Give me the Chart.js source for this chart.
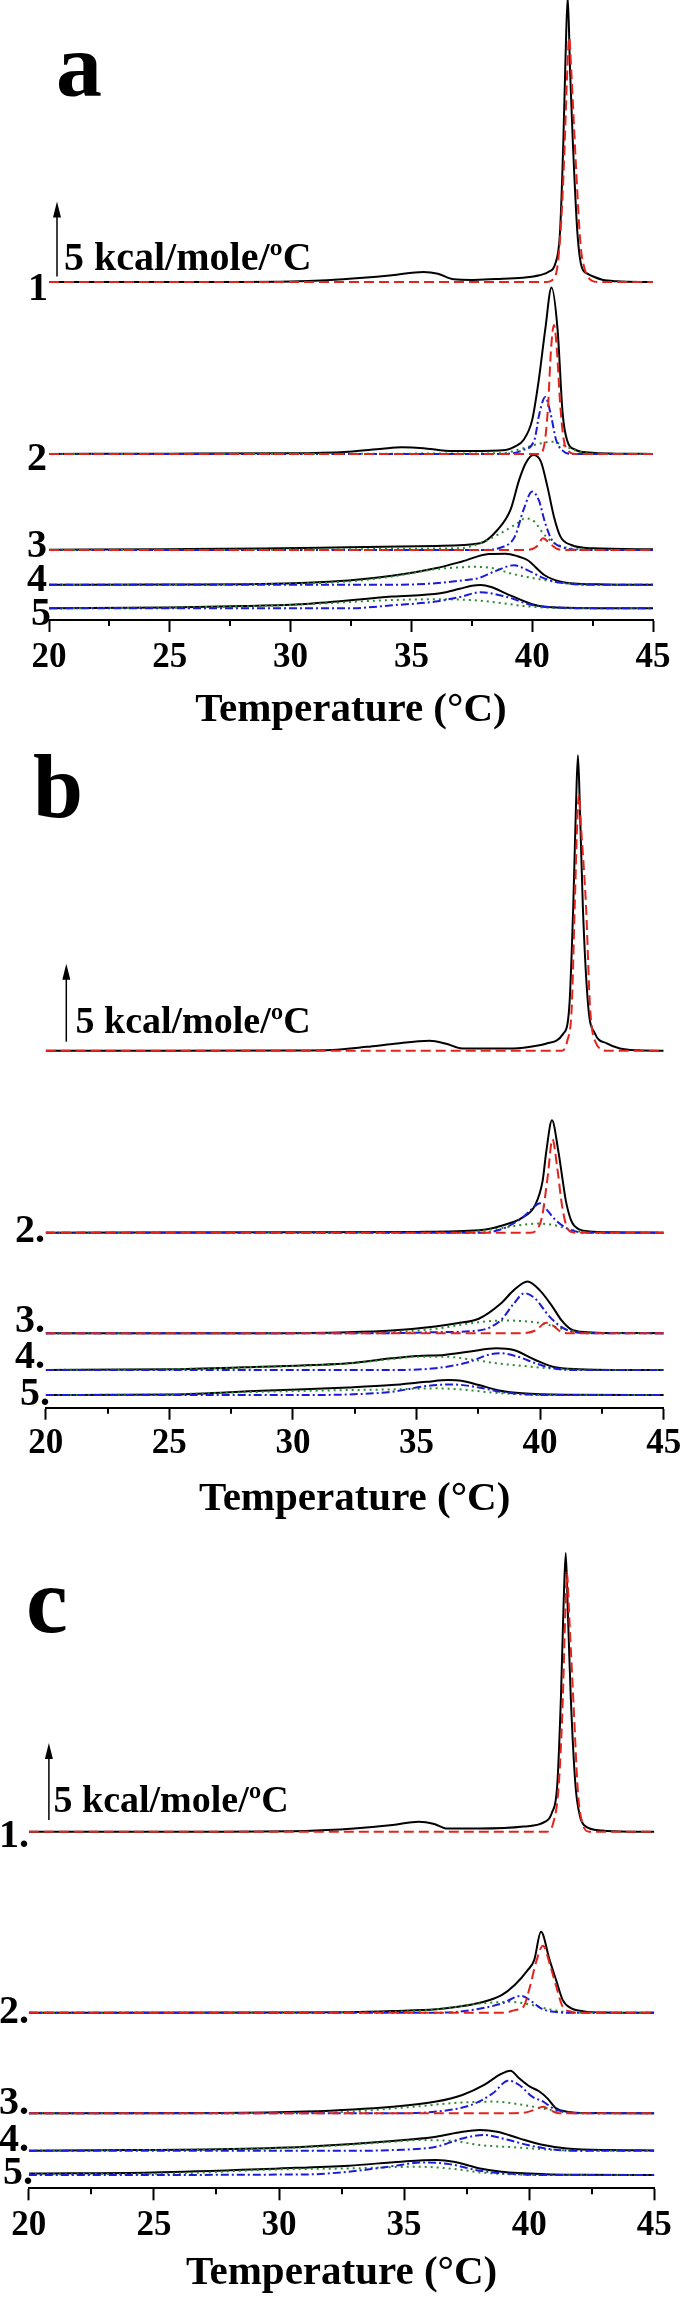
<!DOCTYPE html>
<html><head><meta charset="utf-8">
<script src="https://cdn.jsdelivr.net/npm/chart.js@4.4.1/dist/chart.umd.min.js"></script>
<style>
html,body{margin:0;padding:0;background:#fff;width:684px;height:2300px;overflow:hidden}
.panel{position:absolute;left:0;width:684px}
canvas{display:block}
</style></head><body>
<div class="panel" style="top:0;height:740px"><canvas id="ca" width="684" height="740"></canvas></div>
<div class="panel" style="top:740px;height:790px"><canvas id="cb" width="684" height="790"></canvas></div>
<div class="panel" style="top:1530px;height:770px"><canvas id="cc" width="684" height="770"></canvas></div>
<script>
// ---------- axis / text ----------
const xTicks = [20, 25, 30, 35, 40, 45];
const minorTicks = [22.5, 27.5, 32.5, 37.5, 42.5];
const xTitle = 'Temperature (°C)';
const scaleBarValue = 5;
const scaleBarText = '5 kcal/mole/ºC';

// ---------- panel a : [temperature, excess Cp (kcal/mole/ºC)] ----------
const aT1Total = [[20,0],[25,0],[30,0.04],[31.5,0.12],[33,0.28],[34.2,0.45],[35.5,0.67],[36.1,0.55],[36.75,0.18],[37.5,0.14],[38.5,0.2],[39.6,0.29],[40.3,0.45],[40.7,0.7],[40.95,1.2],[41.15,3.3],[41.29,9.4],[41.38,15],[41.47,19],[41.57,14],[41.68,9.4],[41.87,3.3],[42.05,1.0],[42.3,0.55],[42.55,0.35],[42.9,0.15],[43.5,0.05],[45,0]];
const aT1Red = [[20,0],[40.6,0],[40.8,0.1],[41.04,1.0],[41.2,4],[41.32,8.1],[41.45,14],[41.53,16.3],[41.62,14],[41.8,8.1],[42.0,2.5],[42.15,1.0],[42.46,0.1],[42.8,0],[45,0]];

const aT2Total = [[20,0],[25,0.02],[30,0.04],[32.4,0.15],[33.8,0.35],[34.6,0.44],[35.5,0.38],[36.4,0.22],[37.5,0.2],[38.9,0.27],[39.28,0.49],[39.64,0.93],[40.0,2.27],[40.27,4.9],[40.54,8.3],[40.8,11.1],[41.05,8.3],[41.26,2.7],[41.44,0.93],[41.8,0.27],[42.34,0.09],[43.5,0.02],[45,0]];
const aT2Red = [[20,0],[40.3,0],[40.5,0.6],[40.65,3.0],[40.78,7.0],[40.9,8.6],[41.02,7.0],[41.15,3.5],[41.3,1.0],[41.5,0.2],[41.8,0],[45,0]];
const aT2Blue = [[20,0],[38.7,0],[39.64,0.27],[40.09,0.93],[40.3,2.7],[40.54,3.8],[40.76,2.7],[40.99,0.93],[41.26,0.22],[41.6,0],[45,0]];
const aT2Green = [[20,0],[38.7,0.04],[39.64,0.38],[40.36,0.71],[40.81,0.82],[41.26,0.6],[41.8,0.22],[42.34,0.04],[43,0],[45,0]];

const aT3Total = [[20,0.02],[25,0.05],[28.83,0.09],[32.43,0.18],[36.04,0.27],[37.84,0.44],[38.56,1.33],[39.1,2.67],[39.46,4.67],[39.73,5.78],[40.04,6.33],[40.36,5.89],[40.63,4.22],[40.9,2.22],[41.17,0.89],[41.62,0.33],[42.52,0.11],[45,0.04]];
const aT3Red = [[20,0],[39.64,0],[40.18,0.22],[40.45,0.78],[40.72,0.44],[40.99,0.11],[41.3,0],[45,0]];
const aT3Blue = [[20,0],[37.84,0],[38.74,0.18],[39.28,0.89],[39.64,2.67],[40.0,3.89],[40.27,3.33],[40.54,1.78],[40.81,0.67],[41.26,0.18],[41.98,0],[45,0]];
const aT3Green = [[20,0],[36.94,0.11],[37.84,0.44],[38.56,1.0],[39.28,1.67],[39.73,2.11],[40.09,1.89],[40.45,1.11],[40.81,0.56],[41.26,0.22],[41.98,0.04],[43,0],[45,0]];

const aT4Total = [[20,0],[25,0.02],[28.8,0.05],[32.4,0.29],[34.2,0.6],[36.0,1.1],[37.1,1.55],[38.2,2.05],[38.9,2.07],[39.4,1.9],[39.8,1.65],[40.5,0.65],[41.18,0.2],[41.87,0.07],[43,0.02],[45,0]];
const aT4Blue = [[20,0],[34.2,0],[36.0,0.1],[37.1,0.29],[37.73,0.42],[38.42,0.87],[39.25,1.3],[39.8,0.98],[40.35,0.53],[40.9,0.22],[41.5,0.07],[42.5,0],[45,0]];
const aT4Green = [[20,0],[28.8,0.05],[32.4,0.22],[34.2,0.55],[36.0,1.04],[37.04,1.16],[37.5,1.2],[38.42,1.09],[39.1,0.76],[40.5,0.31],[41.5,0.08],[42.5,0],[45,0]];

const aT5Total = [[20,0],[25,0.05],[28.1,0.15],[30.6,0.29],[34.2,0.78],[36.2,1.0],[37.0,1.3],[37.5,1.5],[37.87,1.55],[38.3,1.42],[38.9,1.0],[40.0,0.27],[40.5,0.1],[41.4,0.04],[45,0]];
const aT5Blue = [[20,0],[32.4,0],[34.2,0.2],[36.0,0.45],[37.0,0.75],[37.87,1.07],[38.9,0.78],[40.0,0.22],[41.1,0.05],[42,0],[45,0]];
const aT5Green = [[20,0],[25,0.05],[28.1,0.13],[30.6,0.27],[34.2,0.55],[36.0,0.6],[37.5,0.55],[38.6,0.38],[39.6,0.16],[40.7,0.04],[42,0],[45,0]];

// ---------- panel b ----------
const bT1Total = [[20,0],[25,0],[30,0.02],[31.56,0.05],[33,0.25],[34.03,0.43],[35.53,0.64],[36.2,0.45],[36.86,0.15],[38,0.15],[38.92,0.15],[39.33,0.2],[40.27,0.47],[40.94,1.1],[41.18,2.8],[41.34,9.2],[41.45,15.6],[41.53,18.95],[41.61,15.6],[41.73,9.2],[41.95,2.8],[42.22,1.1],[42.7,0.47],[43.23,0.15],[44,0.03],[45,0]];
const bT1Red = [[20,0],[40.87,0],[41.1,0.64],[41.28,2.8],[41.4,9.2],[41.5,14.5],[41.57,16.4],[41.65,14.5],[41.86,9.2],[42.02,2.8],[42.22,0.64],[42.7,0],[45,0]];

const bT2Total = [[20,0],[30,0.02],[35,0.05],[37.52,0.15],[38.4,0.43],[39.28,0.96],[39.81,1.8],[40.1,3.3],[40.25,5.2],[40.48,7.2],[40.74,5.2],[40.9,3.5],[41.04,2.05],[41.25,0.8],[41.39,0.43],[41.6,0.2],[42,0.08],[43,0.02],[45,0]];
const bT2Red = [[20,0],[39.6,0],[39.81,0.1],[40.07,0.96],[40.3,3.5],[40.5,6.0],[40.69,4.2],[40.9,1.6],[41.13,0.2],[41.4,0],[45,0]];
const bT2Blue = [[20,0],[37.52,0],[38.4,0.2],[39.28,0.96],[39.72,1.6],[39.99,1.88],[40.25,1.5],[40.6,0.85],[41.04,0.32],[41.57,0.04],[42,0],[45,0]];
const bT2Green = [[20,0],[36.64,0],[38.05,0.2],[39.28,0.5],[39.9,0.58],[40.51,0.5],[41.22,0.2],[41.92,0.02],[42.5,0],[45,0]];

const bT3Total = [[20,0],[28.73,0],[32.24,0.06],[34.0,0.17],[35.76,0.43],[36.64,0.64],[37.52,0.92],[38.4,1.88],[38.93,2.74],[39.49,3.31],[39.99,2.74],[40.51,1.67],[40.87,0.81],[41.22,0.28],[41.92,0.06],[43,0.01],[45,0]];
const bT3Red = [[20,0],[39.28,0],[39.81,0.17],[40.25,0.66],[40.51,0.49],[40.87,0.06],[41.2,0],[45,0]];
const bT3Blue = [[20,0],[34,0],[35.76,0.06],[37.52,0.17],[38.4,0.81],[38.93,1.88],[39.37,2.56],[39.81,2.2],[40.34,1.13],[40.87,0.38],[41.39,0.06],[41.92,0],[45,0]];
const bT3Green = [[20,0],[32,0],[34.0,0.06],[35.76,0.28],[37.52,0.7],[38.57,0.81],[39.28,0.77],[40.16,0.6],[40.87,0.28],[41.57,0.06],[42.5,0],[45,0]];

const bT4Total = [[20,0],[25.2,0.04],[28.73,0.21],[32.24,0.43],[34.0,0.75],[35.06,0.9],[36.12,0.96],[37.17,1.18],[38.23,1.39],[38.93,1.28],[39.81,0.64],[40.51,0.21],[41.57,0.04],[43,0],[45,0]];
const bT4Blue = [[20,0],[34.0,0],[35.76,0.11],[37.17,0.53],[37.87,0.96],[38.4,1.07],[39.1,0.85],[39.81,0.43],[40.51,0.11],[41.2,0],[45,0]];
const bT4Green = [[20,0],[25,0.05],[28.73,0.19],[32.24,0.41],[34.0,0.7],[35.06,0.85],[36.12,0.85],[37.17,0.68],[38.23,0.43],[39.28,0.26],[40.34,0.11],[41.57,0.02],[43,0],[45,0]];

const bT5Total = [[20,0],[25.2,0.04],[28.73,0.28],[32.24,0.49],[34.0,0.64],[35.41,0.85],[36.29,0.96],[36.82,0.92],[37.52,0.64],[38.4,0.28],[39.28,0.11],[41.04,0.02],[45,0]];
const bT5Blue = [[20,0],[30,0],[32.24,0.04],[34.0,0.21],[35.41,0.58],[36.47,0.68],[37.52,0.49],[38.4,0.21],[39.28,0.06],[40.3,0],[45,0]];
const bT5Green = [[20,0],[25,0.05],[28.73,0.21],[32.24,0.32],[34.0,0.36],[35.76,0.43],[36.82,0.36],[37.87,0.19],[39.28,0.04],[40.5,0],[45,0]];

// ---------- panel c ----------
const cT1Total = [[20,0],[25,0],[31.06,0.05],[33,0.2],[34.54,0.43],[35.59,0.65],[36.2,0.5],[36.72,0.2],[38,0.2],[39.77,0.33],[40.64,0.65],[40.9,1.2],[41.12,3.0],[41.27,8.8],[41.37,14.5],[41.46,18.1],[41.55,14],[41.66,8.8],[41.85,3.0],[42.03,1.0],[42.21,0.4],[42.9,0.07],[44,0],[45,0]];
const cT1Red = [[20,0],[40.7,0],[40.95,0.5],[41.18,3.0],[41.33,8.0],[41.44,14],[41.51,16.8],[41.6,14],[41.78,8.0],[41.95,2.5],[42.12,0.6],[42.4,0],[45,0]];

const cT2Total = [[20,0],[30,0.02],[32.8,0.04],[34.54,0.11],[36.28,0.22],[37.15,0.39],[38.03,0.65],[38.9,1.15],[39.42,1.8],[39.94,2.77],[40.2,3.42],[40.47,5.26],[40.82,3.4],[41.08,2.1],[41.34,0.82],[41.69,0.28],[42.21,0.09],[43,0.02],[45,0]];
const cT2Red = [[20,0],[39.0,0],[39.42,0.17],[39.77,0.39],[40.03,1.69],[40.26,3.2],[40.55,4.35],[40.85,3.0],[41.08,1.7],[41.34,0.39],[41.69,0.06],[42,0],[45,0]];
const cT2Blue = [[20,0],[36.28,0],[37.68,0.17],[38.9,0.6],[39.68,1.1],[40.12,0.71],[40.47,0.28],[40.99,0.06],[41.5,0],[45,0]];
const cT2Green = [[20,0],[33,0.02],[34.54,0.06],[36.28,0.22],[38.03,0.6],[39.25,0.71],[40.12,0.5],[40.82,0.22],[41.51,0.04],[42,0],[45,0]];

const cT3Total = [[20,0],[27.57,0.02],[31.05,0.11],[34.54,0.43],[36.28,0.76],[37.33,1.19],[38.2,1.84],[38.81,2.49],[39.25,2.77],[39.6,2.27],[40.03,1.73],[40.38,1.45],[40.73,0.97],[41.08,0.32],[41.51,0.11],[42.38,0.02],[45,0]];
const cT3Red = [[20,0],[38.9,0],[39.77,0.04],[40.2,0.22],[40.56,0.43],[40.82,0.22],[41.08,0.04],[41.4,0],[45,0]];
const cT3Blue = [[20,0],[34.54,0],[36.28,0.11],[37.68,0.54],[38.55,1.3],[39.16,2.12],[39.6,1.84],[40.12,1.08],[40.56,0.76],[40.9,0.37],[41.34,0.11],[42,0],[45,0]];
const cT3Green = [[20,0],[30,0.02],[32.8,0.11],[35.41,0.43],[37.15,0.69],[38.55,0.76],[39.77,0.54],[40.64,0.28],[41.51,0.06],[42.5,0],[45,0]];

const cT4Total = [[20,0],[24.08,0.04],[27.57,0.09],[31.05,0.26],[34.54,0.63],[36.28,0.91],[37.33,1.23],[38.03,1.34],[38.72,1.23],[39.6,0.8],[40.47,0.41],[41.51,0.15],[43.26,0.04],[45,0.02]];
const cT4Blue = [[20,0],[33,0],[34.54,0.04],[36.28,0.26],[37.33,0.8],[38.2,1.02],[39.07,0.74],[39.94,0.37],[40.82,0.11],[41.8,0],[45,0]];
const cT4Green = [[20,0],[25,0.05],[28,0.1],[31.05,0.22],[34.54,0.58],[35.59,0.69],[36.98,0.63],[38.03,0.37],[39.42,0.22],[41.16,0.04],[42.5,0],[45,0]];

const cT5Total = [[20,0.1],[24.95,0.17],[30.0,0.43],[32.8,0.61],[34.89,0.87],[36.28,0.97],[36.98,0.87],[38.03,0.43],[38.9,0.22],[40.64,0.06],[42,0.02],[45,0]];
const cT5Blue = [[20,0],[31.05,0.04],[32.8,0.22],[34.54,0.58],[35.76,0.82],[36.81,0.71],[38.03,0.28],[39.77,0.04],[41,0],[45,0]];
const cT5Green = [[20,0.05],[25.82,0.11],[30.0,0.37],[32.8,0.43],[35.59,0.54],[37.15,0.37],[38.03,0.17],[39.77,0.02],[41,0],[45,0]];

// vertical offsets of the stacked thermograms (kcal/mole/ºC)
const offsetsA = [22.53, 11.07, 4.67, 2.35, 0.78];
const offsetsB = [22.88, 11.22, 4.78, 2.42, 0.81];
const offsetsC = [23.16, 11.40, 4.87, 2.44, 0.86];

// ---------- build ----------
const panelA = [
  {total:aT1Total, red:aT1Red},
  {total:aT2Total, red:aT2Red, blue:aT2Blue, green:aT2Green},
  {total:aT3Total, red:aT3Red, blue:aT3Blue, green:aT3Green},
  {total:aT4Total, blue:aT4Blue, green:aT4Green},
  {total:aT5Total, blue:aT5Blue, green:aT5Green}
];
const panelB = [
  {total:bT1Total, red:bT1Red},
  {total:bT2Total, red:bT2Red, blue:bT2Blue, green:bT2Green},
  {total:bT3Total, red:bT3Red, blue:bT3Blue, green:bT3Green},
  {total:bT4Total, blue:bT4Blue, green:bT4Green},
  {total:bT5Total, blue:bT5Blue, green:bT5Green}
];
const panelC = [
  {total:cT1Total, red:cT1Red},
  {total:cT2Total, red:cT2Red, blue:cT2Blue, green:cT2Green},
  {total:cT3Total, red:cT3Red, blue:cT3Blue, green:cT3Green},
  {total:cT4Total, blue:cT4Blue, green:cT4Green},
  {total:cT5Total, blue:cT5Blue, green:cT5Green}
];

const STYLES = {
  red:   {borderColor:'#e3241d', borderWidth:2, borderDash:[10,5], order:1},
  blue:  {borderColor:'#1c1cd8', borderWidth:2, borderDash:[8,3,2,3], order:1},
  green: {borderColor:'#2c8c2c', borderWidth:2, borderDash:[2,4], order:1},
  total: {borderColor:'#000000', borderWidth:2, borderDash:[], order:2}
};

function buildDatasets(panel, offsets) {
  const out = [];
  panel.forEach((trace, i) => {
    ['red','blue','green','total'].forEach(k => {
      if (!trace[k]) return;
      out.push(Object.assign({
        label: k + (i+1),
        data: trace[k].map(p => ({x: p[0], y: p[1] + offsets[i]})),
        fill: false, pointRadius: 0, cubicInterpolationMode: 'monotone'
      }, STYLES[k]));
    });
  });
  return out;
}

const annotPlugin = {
  id: 'annot',
  afterDraw(chart, args, o) {
    const ctx = chart.ctx, xs = chart.scales.x, ys = chart.scales.y, ca = chart.chartArea;
    ctx.save();
    ctx.strokeStyle = '#000'; ctx.fillStyle = '#000';
    ctx.lineWidth = 2;
    minorTicks.forEach(v => {
      const px = Math.round(xs.getPixelForValue(v));
      ctx.beginPath(); ctx.moveTo(px, ca.bottom); ctx.lineTo(px, ca.bottom + 6); ctx.stroke();
    });
    ctx.textAlign = 'left'; ctx.textBaseline = 'alphabetic';
    ctx.font = 'bold ' + o.letterSize + 'px "Liberation Serif", serif';
    ctx.fillText(o.letter, o.letterX, o.letterY);
    ctx.font = 'bold 40px "Liberation Serif", serif';
    o.labels.forEach(l => ctx.fillText(l[0], l[1], l[2]));
    const yb = ys.getPixelForValue(o.barBase);
    const yt = ys.getPixelForValue(o.barBase + scaleBarValue);
    ctx.lineWidth = 1.5;
    ctx.beginPath(); ctx.moveTo(o.barX, yb); ctx.lineTo(o.barX, yt + 12); ctx.stroke();
    ctx.beginPath(); ctx.moveTo(o.barX, yt); ctx.lineTo(o.barX - 4, yt + 16); ctx.lineTo(o.barX + 4, yt + 16); ctx.closePath(); ctx.fill();
    ctx.font = 'bold ' + o.textSize + 'px "Liberation Serif", serif';
    ctx.fillText(scaleBarText, o.textX, o.textY);
    ctx.restore();
  }
};

function makeChart(id, panel, offsets, cfg) {
  return new Chart(document.getElementById(id), {
    type: 'line',
    data: { datasets: buildDatasets(panel, offsets) },
    options: {
      responsive: false, animation: false, devicePixelRatio: 1,
      layout: { padding: { left: cfg.left, right: cfg.right, top: 0, bottom: cfg.bottom } },
      plugins: { legend: {display:false}, tooltip: {enabled:false}, annot: cfg.annot },
      scales: {
        x: {
          type: 'linear', min: xTicks[0], max: xTicks[xTicks.length-1], position: 'bottom',
          afterBuildTicks: s => { s.ticks = xTicks.map(v => ({value: v})); },
          ticks: { color:'#000', padding: cfg.tickPad, maxRotation:0, autoSkip:false,
                   font:{family:'"Liberation Serif", serif', weight:'bold', size:35} },
          grid: { display:true, drawOnChartArea:false, drawTicks:true, tickLength:12, tickWidth:2, tickColor:'#000' },
          border: { display:true, color:'#000', width:2 },
          title: { display:true, text:xTitle, color:'#000', padding:0,
                   font:{family:'"Liberation Serif", serif', weight:'bold', size:41, lineHeight:1} },
          afterFit: s => { s.height = cfg.axisH; s.paddingLeft = 0; s.paddingRight = 0; }
        },
        y: { type:'linear', display:false, min:0, max:cfg.ymax }
      }
    },
    plugins: [annotPlugin]
  });
}

makeChart('ca', panelA, offsetsA, {
  left:49, right:31, bottom:9.5, axisH:110.5, tickPad:4.5, ymax:41.33,
  annot:{letter:'a', letterSize:92, letterX:56, letterY:96,
         labels:[['1',28,300],['2',27,470],['3',27,556.7],['4',27,591],['5',31,625]],
         barX:57, barBase:22.89, textX:64, textY:270, textSize:40}
});
makeChart('cb', panelB, offsetsB, {
  left:45.7, right:20.3, bottom:10.5, axisH:111.8, tickPad:2.8, ymax:42.8,
  annot:{letter:'b', letterSize:90, letterX:33, letterY:77,
         labels:[['2.',15,501.7],['3.',15,591.7],['4.',15,628.3],['5.',20,665]],
         barX:66.3, barBase:23.46, textX:75.5, textY:293.3, textSize:38}
});
makeChart('cc', panelC, offsetsC, {
  left:28.8, right:29.7, bottom:6, axisH:105.7, tickPad:4.2, ymax:42.75,
  annot:{letter:'c', letterSize:94, letterX:26, letterY:102,
         labels:[['1.',-1,316.7],['2.',-1,493.3],['3.',-1,584],['4.',-1,620.7],['5.',3,654]],
         barX:48.9, barBase:23.92, textX:53.5, textY:281.7, textSize:38}
});
</script>
</body></html>
